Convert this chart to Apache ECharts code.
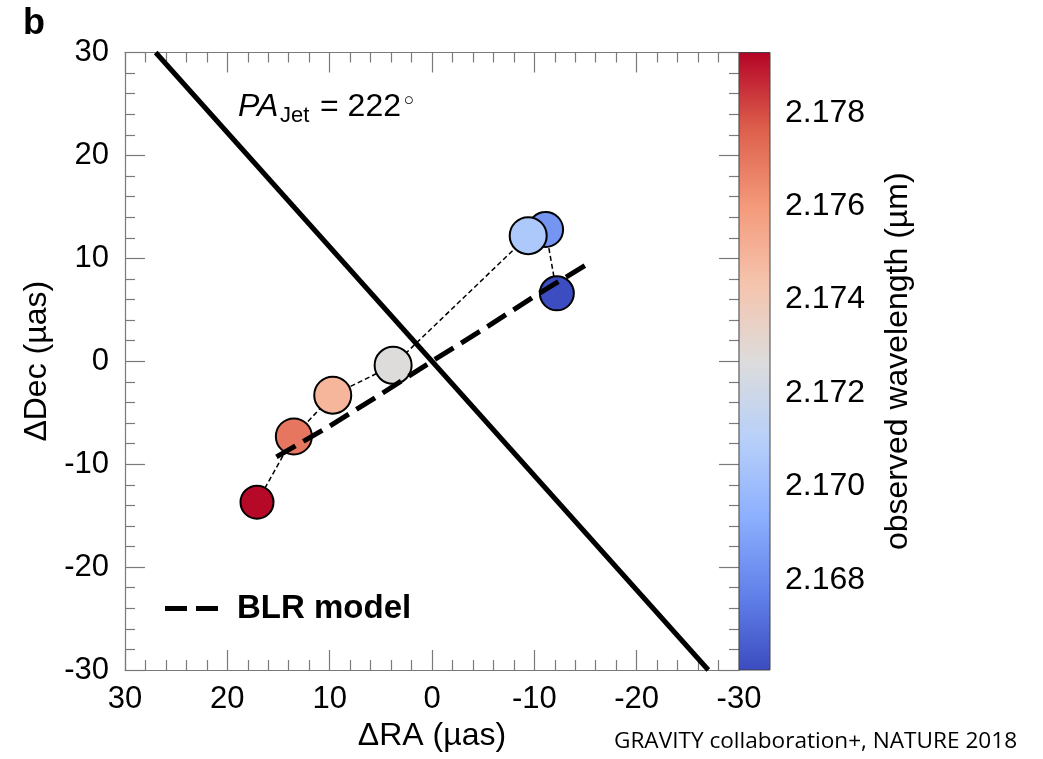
<!DOCTYPE html>
<html>
<head>
<meta charset="utf-8">
<script src="https://cdn.jsdelivr.net/npm/echarts@6/dist/echarts.min.js"></script>
<style>
html,body{margin:0;padding:0;background:#fff;}
#chart{width:1043px;height:759px;}
</style>
</head>
<body>
<div id="chart"></div>
<script>
// ---- data ----
const ra   = [17.1, 13.5, 9.7, 3.8, -9.4, -11.1, -12.2];      // ΔRA (µas)
const dec  = [-13.7, -7.3, -3.3, -0.4, 12.2, 12.8, 6.6];      // ΔDec (µas)
const lam  = [2.1792, 2.1770, 2.1749, 2.1727, 2.1706, 2.1684, 2.1661]; // observed wavelength (µm)
const dotSize = [33, 36, 37, 37, 37, 35, 34];
const drawOrder = [0, 1, 2, 3, 5, 4, 6];

const jetRA  = [27.0, -27.0];
const jetDec = [30, -30];

const blrRA  = [15.2, 10, 5, 0, -5, -10, -15.6];
const blrDec = [-9.3, -6.3, -3.2, 0, 3.1, 6.3, 9.7];

const lamMin = 2.16607, lamMax = 2.17929;
const axisTicks = [-30, -20, -10, 0, 10, 20, 30];

const coolwarm = ['#3b4cc0','#6282ea','#8db0fe','#b8d0f9','#dddcdc','#f5c4ad','#f49a7b','#dd604d','#b40426'];

// ---- chart ----
const FONT = 'Liberation Sans';
const AX = '#7a7a7a';
const chart = echarts.init(document.getElementById('chart'));

const L = 125, T = 52.5, W = 614, H = 617.5;

function mainAxis(pos, showLabel, name, nameGap, rotate) {
  return {
    type: 'value', min: axisTicks[0], max: axisTicks[axisTicks.length - 1], interval: 10,
    position: pos, gridIndex: 0,
    inverse: (pos === 'bottom' || pos === 'top'),
    axisLine: { show: true, onZero: false, lineStyle: { color: AX, width: 1.2 } },
    axisTick: { show: true, inside: true, length: 20, lineStyle: { color: AX, width: 1.2 } },
    minorTick: { show: true, splitNumber: 5, length: 10, lineStyle: { color: AX, width: 1.2 } },
    splitLine: { show: false }, minorSplitLine: { show: false },
    axisLabel: { show: showLabel, fontSize: 31, fontFamily: FONT, color: '#000',
                 margin: (pos === 'bottom') ? 14 : 16 },
    name: name || '', nameLocation: 'middle', nameGap: nameGap || 0, nameRotate: rotate || 0,
    nameTextStyle: { fontSize: 32, fontFamily: FONT, color: '#000' }
  };
}

const gradStops = coolwarm.map((c, i) => ({ offset: 1 - i / (coolwarm.length - 1), color: c }));

const option = {
  animation: false,
  backgroundColor: '#fff',
  grid: [
    { left: L, top: T, width: W, height: H, containLabel: false },
    { left: L + W, top: T, width: 31, height: H, containLabel: false }
  ],
  xAxis: [
    mainAxis('bottom', true, '\u0394RA (\u00b5as)', 50, 0),
    mainAxis('top', false),
    { type: 'value', gridIndex: 1, min: 0, max: 1, show: false }
  ],
  yAxis: [
    mainAxis('left', true, '\u0394Dec (\u00b5as)', 72, 90),
    mainAxis('right', false),
    {
      type: 'value', gridIndex: 1, position: 'right', min: lamMin, max: lamMax,
      minInterval: 0.002, maxInterval: 0.002,
      axisLine: { show: true, lineStyle: { color: '#444', width: 1 } },
      axisTick: { show: true, inside: false, length: 4, lineStyle: { color: '#444' } },
      splitLine: { show: false },
      axisLabel: { fontSize: 32, fontFamily: FONT, color: '#000', margin: 15,
                   showMinLabel: false, showMaxLabel: false,
                   formatter: v => v.toFixed(3) },
      name: 'observed wavelength (\u00b5m)', nameLocation: 'middle', nameGap: 112, nameRotate: 90,
      nameTextStyle: { fontSize: 32, fontFamily: FONT, color: '#000' }
    }
  ],
  visualMap: [{
    type: 'continuous', show: false, min: lamMin, max: lamMax, dimension: 2, seriesIndex: 2,
    inRange: { color: coolwarm }
  }],
  legend: {
    data: [{ name: 'BLR model', icon: 'path://M0,0h22v5h-22z M31,0h22v5h-22z' }],
    left: 165, top: 592, padding: 0, itemWidth: 53, itemHeight: 5,
    selectedMode: false,
    textStyle: { fontSize: 33, fontWeight: 'bold', fontFamily: FONT, color: '#000', padding: [0, 0, 0, 14] }
  },
  series: [
    { // colorbar
      type: 'custom', xAxisIndex: 2, yAxisIndex: 2, silent: true, clip: false, z: 1,
      data: [[0, lamMin, 1, lamMax]],
      renderItem: function (params, api) {
        const p0 = api.coord([api.value(0), api.value(3)]);
        const p1 = api.coord([api.value(2), api.value(1)]);
        return { type: 'rect',
          shape: { x: p0[0], y: p0[1], width: p1[0] - p0[0], height: p1[1] - p0[1] },
          style: { fill: new echarts.graphic.LinearGradient(0, 0, 0, 1, gradStops), stroke: '#444', lineWidth: 1 } };
      }
    },
    { // connecting thin dashed line
      type: 'line', name: 'track', xAxisIndex: 0, yAxisIndex: 0, z: 2,
      data: ra.map((x, i) => [x, dec[i]]), symbol: 'none', silent: true,
      lineStyle: { color: '#000', width: 1.5, type: [5, 3] }
    },
    { // photocenter points
      type: 'scatter', name: 'photocenter', xAxisIndex: 0, yAxisIndex: 0, z: 3,
      data: drawOrder.map(i => [ra[i], dec[i], lam[i], dotSize[i]]),
      symbolSize: d => d[3],
      itemStyle: { borderColor: '#000', borderWidth: 2, opacity: 1 },
      emphasis: { disabled: true }
    },
    { // BLR model
      type: 'line', name: 'BLR model', xAxisIndex: 0, yAxisIndex: 0, z: 4,
      data: blrRA.map((x, i) => [x, blrDec[i]]), symbol: 'none', silent: true,
      itemStyle: { color: '#000' },
      lineStyle: { color: '#000', width: 5, type: [22, 9] }
    },
    { // jet PA line
      type: 'line', name: 'jet', xAxisIndex: 0, yAxisIndex: 0, z: 5,
      data: jetRA.map((x, i) => [x, jetDec[i]]), symbol: 'none', silent: true,
      lineStyle: { color: '#000', width: 5 }
    }
  ],
  graphic: [
    { type: 'text', left: 23, top: 6, style: { text: 'b', font: 'bold 36px "Liberation Sans"', fill: '#000' } },
    { type: 'text', x: 238, y: 107.5, style: { text: 'PA', font: 'italic 32px "Liberation Sans"', fill: '#000', verticalAlign: 'middle' } },
    { type: 'text', x: 280, y: 116, style: { text: 'Jet', font: '22px "Liberation Sans"', fill: '#000', verticalAlign: 'middle' } },
    { type: 'text', x: 320, y: 107.5, style: { text: '= 222', font: '32px "Liberation Sans"', fill: '#000', verticalAlign: 'middle' } },
    { type: 'text', x: 401, y: 103, style: { text: '\u25e6', font: '26px "DejaVu Sans"', fill: '#000', verticalAlign: 'middle' } },
    { type: 'text', x: 614, y: 742, style: { text: 'GRAVITY collaboration+, NATURE 2018', font: '22.6px "Open Sans"', fill: '#000', verticalAlign: 'middle' } }
  ]
};
chart.setOption(option);
</script>
</body>
</html>
